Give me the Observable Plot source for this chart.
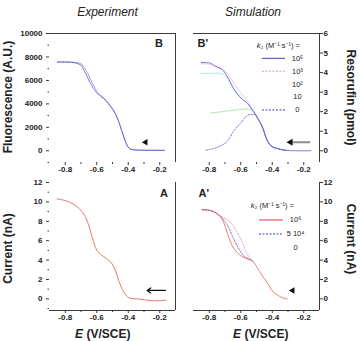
<!DOCTYPE html>
<html>
<head>
<meta charset="utf-8">
<script src="https://cdn.jsdelivr.net/npm/d3@7"></script>
<script src="https://cdn.jsdelivr.net/npm/@observablehq/plot@0.6"></script>
<style>
  body { margin: 0; background: #fff; }
  #fig { position: relative; width: 360px; height: 341px; overflow: hidden; background: #fff; }
  #fig svg { position: absolute; left: 0; top: 0; }
</style>
</head>
<body>
<div id="fig"></div>
<script>
// ---------- axis ticks and domains ----------
const potentialDomain = [-0.9, -0.1];
const potentialTicks = [-0.8, -0.6, -0.4, -0.2];
const potentialMinor = [-0.7, -0.5, -0.3];

const fluoDomain = [-1000, 10000];
const fluoTicks = [0, 2000, 4000, 6000, 8000, 10000];
const fluoMinor = [-1000, 1000, 3000, 5000, 7000, 9000];

const resoDomain = [-0.6, 6];
const resoTicks = [0, 1, 2, 3, 4, 5, 6];

const currentDomain = [-1.2, 12];
const currentTicks = [0, 2, 4, 6, 8, 10, 12];
const currentMinor = [-1, 1, 3, 5, 7, 9, 11];

// ---------- Experiment B: fluorescence (A.U.), two scans ----------
const expFluoE = [-0.85, -0.80, -0.76, -0.73, -0.70, -0.68, -0.66, -0.64, -0.62, -0.60, -0.58, -0.56, -0.54,
                  -0.52, -0.50, -0.48, -0.46, -0.44, -0.42, -0.40, -0.38, -0.35, -0.30, -0.25, -0.20, -0.17];
const expFluoScan1 = [7560, 7570, 7540, 7460, 7280, 6850, 6300, 5750, 5300, 4940, 4700, 4490, 4250,
                      3900, 3550, 3100, 2450, 1650, 850, 300, 120, 60, 40, 40, 35, 35];
const expFluoScan2 = [7560, 7570, 7560, 7520, 7420, 7100, 6650, 6100, 5550, 5100, 4800, 4560, 4300,
                      3950, 3580, 3120, 2480, 1680, 880, 320, 130, 70, 50, 45, 40, 40];

// ---------- Experiment A: current (nA) ----------
const expCurrE = [-0.851, -0.788, -0.735, -0.703, -0.671, -0.650, -0.629, -0.608, -0.576, -0.534, -0.502,
                  -0.481, -0.460, -0.438, -0.417, -0.386, -0.322, -0.238, -0.153];
const expCurrI = [10.31, 10.06, 9.62, 9.17, 8.41, 7.55, 6.34, 5.30, 4.62, 4.10, 3.59,
                  2.90, 1.86, 1.00, 0.41, 0.07, -0.03, -0.20, -0.13];

// ---------- Simulation B': resorufin (pmol) for several k2 ----------
const simK5E = [-0.85, -0.80, -0.759, -0.708, -0.676, -0.644, -0.599, -0.554, -0.522, -0.49, -0.458, -0.439,
                -0.407, -0.362, -0.311, -0.25, -0.20, -0.155];
const simK5R = [4.52, 4.50, 4.32, 4.07, 3.66, 3.15, 2.70, 2.39, 2.03, 1.63, 1.12, 0.66,
                0.25, 0.10, 0.02, 0, 0, 0];
const simK3E = [-0.85, -0.80, -0.759, -0.708, -0.676, -0.644, -0.599, -0.554, -0.522, -0.49, -0.458, -0.439,
                -0.407, -0.362, -0.311];
const simK3R = [4.45, 4.43, 4.30, 4.12, 3.85, 3.45, 2.95, 2.50, 2.10, 1.66, 1.13, 0.67,
                0.26, 0.10, 0.02];
const simK2E = [-0.85, -0.80, -0.75, -0.72, -0.69, -0.66, -0.63, -0.60, -0.554, -0.522, -0.49, -0.458,
                -0.439, -0.407, -0.362, -0.311];
const simK2R = [3.95, 3.96, 3.97, 3.94, 3.75, 3.40, 3.02, 2.72, 2.40, 2.04, 1.63, 1.12,
                0.66, 0.25, 0.10, 0.02];
const simK1E = [-0.79, -0.75, -0.71, -0.67, -0.63, -0.59, -0.555, -0.53, -0.49, -0.458, -0.439, -0.407,
                -0.362, -0.311];
const simK1R = [1.93, 1.97, 2.01, 2.05, 2.09, 2.12, 2.14, 2.10, 1.63, 1.12, 0.66, 0.25,
                0.10, 0.02];
const simK0E = [-0.82, -0.77, -0.729, -0.684, -0.646, -0.602, -0.570, -0.538, -0.51, -0.49, -0.458, -0.439,
                -0.407, -0.362, -0.311];
const simK0R = [0.03, 0.12, 0.25, 0.50, 1.00, 1.40, 1.72, 1.86, 1.86, 1.63, 1.12, 0.66,
                0.25, 0.10, 0.02];
const resoLegend = ["10⁵", "10³", "10²", "10", "0"];

// ---------- Simulation A': current (nA) for several k2 ----------
const simI6E = [-0.845, -0.792, -0.75, -0.718, -0.697, -0.676, -0.654, -0.623, -0.58, -0.527, -0.496,
                -0.464, -0.432, -0.40, -0.358, -0.316, -0.305];
const simI6I = [9.20, 9.10, 8.76, 8.24, 7.37, 6.34, 5.48, 4.79, 4.27, 3.93, 3.24,
                2.38, 1.69, 0.83, 0.31, 0.02, 0];
const simI4E = [-0.845, -0.792, -0.75, -0.718, -0.697, -0.676, -0.654, -0.623, -0.591, -0.56, -0.527];
const simI4I = [9.20, 9.10, 8.76, 8.30, 7.90, 7.37, 6.50, 5.48, 4.62, 4.20, 3.93];
const simI0E = [-0.845, -0.792, -0.75, -0.718, -0.69, -0.665, -0.623, -0.591, -0.559, -0.527];
const simI0I = [9.20, 9.10, 8.80, 8.45, 8.20, 7.90, 6.86, 5.82, 4.62, 3.93];
const currLegend = ["10⁶", "5 10⁴", "0"];

// scan-direction markers (potential, signal)
const markB = [{x: -0.290, y: 730}];
const arrowA = [{x1: -0.164, x2: -0.280, y: 0.87}];
const arrowBp = [{x1: -0.164, x2: -0.271, y: 0.43}];
const markBp = [{x: -0.284, y: 0.43}];
const markAp = [{x: -0.271, y: 0.87}];

// ---------- drawing helpers ----------
const W = 360, H = 341;
const FONT = "'Liberation Sans', Arial, Helvetica, sans-serif";
const INK = "#222";
const FRAME = "#3a3a3a";
const cols = {exp: {marginLeft: 49, marginRight: 185}, sim: {marginLeft: 193, marginRight: 41}};
const rowsLayout = {top: {marginTop: 33, marginBottom: 179}, bottom: {marginTop: 182, marginBottom: 31}};
const tickText = {fontSize: 8, fontWeight: "bold", color: INK, label: null, fontFamily: FONT};

const series = (xs, ys) => xs.map((x, i) => ({x, y: ys[i]}));
const curve = (xs, ys, opts) =>
  Plot.line(series(xs, ys), {x: "x", y: "y", curve: "monotone-x", strokeWidth: 0.75, ...opts});
const label = (s, opts) =>
  Plot.text([s], {text: (d) => d, fontFamily: FONT, fill: INK, textAnchor: "middle", lineAnchor: "middle", ...opts});

function xAxis() {
  return [
    Plot.axisX(potentialTicks, {anchor: "bottom", tickSize: 3, tickPadding: 1,
      tickFormat: (d) => d.toFixed(1), stroke: FRAME, ...tickText}),
    Plot.axisX(potentialMinor, {anchor: "bottom", tickSize: 2, tickFormat: () => "", stroke: FRAME, ...tickText})
  ];
}
function yAxis(anchor, ticks, minor, fmt) {
  const marks = [Plot.axisY(ticks, {anchor, tickSize: 3, tickPadding: anchor === "left" ? 4 : 1,
    tickFormat: fmt || ((d) => String(d)), stroke: FRAME, ...tickText})];
  if (minor) marks.push(Plot.axisY(minor, {anchor, tickSize: 1.5, tickFormat: () => "", stroke: FRAME, ...tickText}));
  return marks;
}

function panel(col, row, yDomain, marks) {
  return Plot.plot({
    width: W, height: H,
    ...cols[col], ...rowsLayout[row],
    x: {domain: potentialDomain},
    y: {domain: yDomain},
    style: {background: "transparent", fontFamily: FONT, overflow: "visible"},
    marks
  });
}

const fig = document.getElementById("fig");

// ---------- B: experimental fluorescence ----------
fig.append(panel("exp", "top", fluoDomain, [
  Plot.ruleY([fluoDomain[1]], {stroke: FRAME}),
  Plot.ruleX([potentialDomain[1]], {stroke: FRAME}),
  ...yAxis("left", fluoTicks, fluoMinor),
  ...xAxis(),
  curve(expFluoE, expFluoScan2, {stroke: "#7070dc", strokeDasharray: "1.5 1"}),
  curve(expFluoE, expFluoScan1, {stroke: "#4040c8", strokeDasharray: "1.5 1"}),
  Plot.dot(markB, {x: "x", y: "y", symbol: "triangle", rotate: -90, r: 2.4, fill: "#111", stroke: null}),
  label("Experiment", {frameAnchor: "top", dx: -5, dy: -21, fontSize: 12, fontStyle: "italic"}),
  label("B", {frameAnchor: "top-right", dx: -16.5, dy: 10, fontSize: 11, fontWeight: "bold"}),
  label("Fluorescence (A.U.)", {frameAnchor: "left", rotate: -90, dx: -41.5, dy: -1, fontSize: 12, fontWeight: "bold"})
]));

// ---------- B': simulated resorufin ----------
const legB = resoLegend.map((t, i) => ({t, y: 4.73 - i * 0.66}));
const legBStyle = [
  {stroke: "#4040c4", strokeDasharray: null},
  {stroke: "#e88ce8", strokeDasharray: "2 1.5"},
  null,
  null,
  {stroke: "#3a3ab0", strokeDasharray: "2 1.5"}
];
fig.append(panel("sim", "top", resoDomain, [
  Plot.ruleY([resoDomain[1]], {stroke: FRAME}),
  Plot.ruleX([potentialDomain[1]], {stroke: FRAME}),
  ...yAxis("right", resoTicks, null),
  ...xAxis(),
  curve(simK1E, simK1R, {stroke: "#6ad86a", strokeDasharray: "1.5 1.5"}),
  curve(simK2E, simK2R, {stroke: "#6ad8d8", strokeDasharray: "1.5 1.5"}),
  curve(simK0E, simK0R, {stroke: "#5656c4", strokeDasharray: "1.5 1.5"}),
  curve(simK3E, simK3R, {stroke: "#e896e8", strokeDasharray: "1.5 1.5"}),
  curve(simK5E, simK5R, {stroke: "#4848c8", strokeWidth: 0.7}),
  Plot.arrow(arrowBp, {x1: "x1", x2: "x2", y1: "y", y2: "y", stroke: "#8a8a8a", strokeWidth: 2, headLength: 0}),
  Plot.dot(markBp, {x: "x", y: "y", symbol: "triangle", rotate: -90, r: 2.6, fill: "#111", stroke: null}),
  // legend
  ...legB.flatMap((d, i) => legBStyle[i]
    ? [Plot.ruleY([d], {y: "y", x1: -0.462, x2: -0.316, strokeWidth: 1, ...legBStyle[i]})]
    : []),
  Plot.text(legB, {x: -0.24, y: "y", text: "t", fontFamily: FONT, fontSize: 7.5, fill: INK, textAnchor: "middle"}),
  Plot.text(["k"], {x: -0.475, y: 5.39, text: (d) => d, fontFamily: FONT, fontSize: 7.5, fontStyle: "italic", fill: INK, textAnchor: "end"}),
  Plot.text(["₂ (M⁻¹ s⁻¹) ="], {x: -0.475, y: 5.39, text: (d) => d, fontFamily: FONT, fontSize: 7.5, fill: INK, textAnchor: "start"}),
  label("Simulation", {frameAnchor: "top", dx: -3.5, dy: -21, fontSize: 12, fontStyle: "italic"}),
  label("B'", {frameAnchor: "top-left", dx: 4, dy: 10, fontSize: 11, fontWeight: "bold", textAnchor: "start"}),
  label("Resorufin (pmol)", {frameAnchor: "right", rotate: 90, dx: 31, dy: -0.5, fontSize: 12, fontWeight: "bold"})
]));

// ---------- A: experimental current ----------
fig.append(panel("exp", "bottom", currentDomain, [
  Plot.ruleY([currentDomain[0]], {stroke: FRAME}),
  Plot.ruleX([potentialDomain[1]], {stroke: FRAME}),
  ...yAxis("left", currentTicks, currentMinor),
  ...xAxis(),
  curve(expCurrE, expCurrI, {stroke: "#e03030", strokeDasharray: "1.5 1"}),
  Plot.arrow(arrowA, {x1: "x1", x2: "x2", y1: "y", y2: "y", stroke: "#111", strokeWidth: 1.3, headLength: 5, headAngle: 70}),
  label("A", {frameAnchor: "top-right", dx: -11.5, dy: 11, fontSize: 11, fontWeight: "bold"}),
  label("Current (nA)", {frameAnchor: "left", rotate: -90, dx: -41, dy: 2, fontSize: 12, fontWeight: "bold"}),
  label("E", {frameAnchor: "bottom", dx: -29.5, dy: 23.5, fontSize: 12, fontWeight: "bold", fontStyle: "italic", textAnchor: "end"}),
  label("(V/SCE)", {frameAnchor: "bottom", dx: -26, dy: 23.5, fontSize: 12, fontWeight: "bold", textAnchor: "start"})
]));

// ---------- A': simulated current ----------
const legA = currLegend.map((t, i) => ({t, y: 8.14 - i * 1.445}));
const legAStyle = [
  {stroke: "#e03c3c", strokeDasharray: null},
  {stroke: "#3c3cb4", strokeDasharray: "2 1.5"},
  null
];
fig.append(panel("sim", "bottom", currentDomain, [
  Plot.ruleY([currentDomain[0]], {stroke: FRAME}),
  Plot.ruleX([potentialDomain[1]], {stroke: FRAME}),
  ...yAxis("right", currentTicks, null),
  ...xAxis(),
  curve(simI0E, simI0I, {stroke: "#e888aa", strokeDasharray: "1.5 1.5"}),
  curve(simI4E, simI4I, {stroke: "#4a4abc", strokeDasharray: "1.5 1.5"}),
  curve(simI6E, simI6I, {stroke: "#e24444", strokeWidth: 0.7}),
  Plot.dot(markAp, {x: "x", y: "y", symbol: "triangle", rotate: -90, r: 2.4, fill: "#111", stroke: null}),
  // legend
  ...legA.flatMap((d, i) => legAStyle[i]
    ? [Plot.ruleY([d], {y: "y", x1: -0.481, x2: -0.329, strokeWidth: 1, ...legAStyle[i]})]
    : []),
  Plot.text(legA, {x: -0.252, y: "y", text: "t", fontFamily: FONT, fontSize: 7.5, fill: INK, textAnchor: "middle"}),
  Plot.text(["k"], {x: -0.513, y: 9.63, text: (d) => d, fontFamily: FONT, fontSize: 7.5, fontStyle: "italic", fill: INK, textAnchor: "end"}),
  Plot.text(["₂ (M⁻¹ s⁻¹) ="], {x: -0.513, y: 9.63, text: (d) => d, fontFamily: FONT, fontSize: 7.5, fill: INK, textAnchor: "start"}),
  label("A'", {frameAnchor: "top-left", dx: 5, dy: 11, fontSize: 11, fontWeight: "bold", textAnchor: "start"}),
  label("Current (nA)", {frameAnchor: "right", rotate: 90, dx: 31, dy: -7.5, fontSize: 12, fontWeight: "bold"}),
  label("E", {frameAnchor: "bottom", dx: -15.5, dy: 23.5, fontSize: 12, fontWeight: "bold", fontStyle: "italic", textAnchor: "end"}),
  label("(V/SCE)", {frameAnchor: "bottom", dx: -12, dy: 23.5, fontSize: 12, fontWeight: "bold", textAnchor: "start"})
]));
</script>
</body>
</html>
